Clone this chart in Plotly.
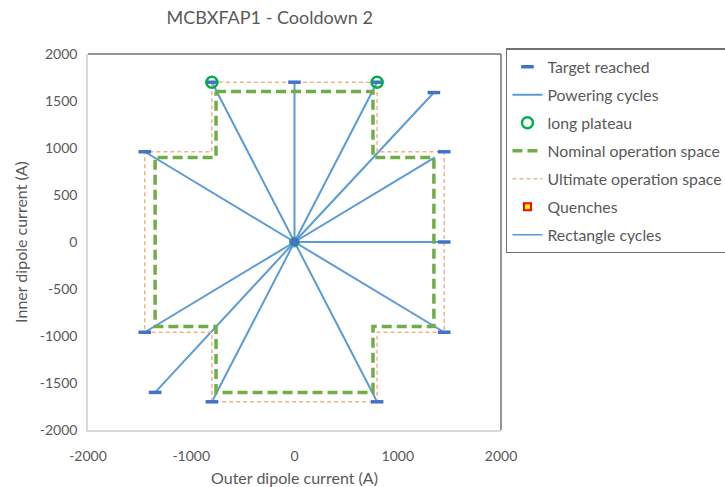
import plotly.graph_objects as go

# Reached current targets (outer dipole, inner dipole), in A
target_outer = [-800, 0, 800, 1350, -1450, 1450, 1450, -1450, 1450, -1350, -800, 800]
target_inner = [1700, 1700, 1700, 1590, 960, 960, 0, -960, -960, -1600, -1700, -1700]

# End points of the powering cycles, each ramped from the origin
cycle_outer = [-800, 0, 800, 1350, -1450, 1360, 1450, -1450, 1450, -1350, -800, 800]
cycle_inner = [1700, 1700, 1700, 1590, 960, 900, 0, -960, -960, -1600, -1700, -1700]

# Long plateaus
plateau_outer = [-800, 800]
plateau_inner = [1700, 1700]

# Origin of all cycles
origin_outer = [0]
origin_inner = [0]

# Nominal operation space boundary
nominal_outer = [-760, 760, 760, 1350, 1350, 760, 760, -760, -760, -1350, -1350, -760, -760]
nominal_inner = [1600, 1600, 900, 900, -900, -900, -1600, -1600, -900, -900, 900, 900, 1600]

# Ultimate operation space boundary
ultimate_outer = [-800, 800, 800, 1450, 1450, 800, 800, -800, -800, -1450, -1450, -800, -800]
ultimate_inner = [1700, 1700, 960, 960, -960, -960, -1700, -1700, -960, -960, 960, 960, 1700]

# No quenches and no rectangle cycles in this cooldown (legend entries only)
quench_outer, quench_inner = [None], [None]
rect_outer, rect_inner = [None], [None]

x_ticks = [-2000, -1000, 0, 1000, 2000]
y_ticks = [-2000, -1500, -1000, -500, 0, 500, 1000, 1500, 2000]

FONT = "Lato"
GREY = "#595959"

# Build the powering cycle segments from the origin
pc_x, pc_y = [], []
for ox, oy in zip(cycle_outer, cycle_inner):
    pc_x += [origin_outer[0], ox, None]
    pc_y += [origin_inner[0], oy, None]

fig = go.Figure()

fig.add_trace(go.Scatter(
    x=pc_x, y=pc_y, mode="lines", name="Powering cycles",
    line=dict(color="#5B9BD5", width=2), legendrank=2, legendgroup="b"))
fig.add_trace(go.Scatter(
    x=rect_outer, y=rect_inner, mode="lines", name="Rectangle cycles",
    line=dict(color="#5B9BD5", width=1.5), legendrank=7, legendgroup="g"))
fig.add_trace(go.Scatter(
    x=nominal_outer, y=nominal_inner, mode="lines", name="Nominal operation space",
    line=dict(color="#70AD47", width=3.5, dash="10px,5px"), legendrank=4, legendgroup="d"))
fig.add_trace(go.Scatter(
    x=ultimate_outer, y=ultimate_inner, mode="lines", name="Ultimate operation space",
    line=dict(color="#F4B183", width=1.5, dash="4px,3px"), legendrank=5, legendgroup="e"))
fig.add_trace(go.Scatter(
    x=target_outer, y=target_inner, mode="markers", name="Target reached",
    marker=dict(symbol="line-ew", size=9, line=dict(color="#4472C4", width=3.5)),
    legendrank=1, legendgroup="a"))
fig.add_trace(go.Scatter(
    x=origin_outer, y=origin_inner, mode="markers", showlegend=False,
    marker=dict(symbol="circle", size=10, color="#4472C4",
                line=dict(color="#3CB371", width=1))))
fig.add_trace(go.Scatter(
    x=plateau_outer, y=plateau_inner, mode="markers", name="long plateau",
    marker=dict(symbol="circle-open", size=11, color="#00B050",
                line=dict(color="#00B050", width=2.5)),
    legendrank=3, legendgroup="c"))
fig.add_trace(go.Scatter(
    x=quench_outer, y=quench_inner, mode="markers", name="Quenches",
    marker=dict(symbol="square", size=7, color="#FFFF00",
                line=dict(color="#FF0000", width=2)),
    legendrank=6, legendgroup="f"))

fig.update_layout(
    width=725, height=487,
    margin=dict(l=88, r=224, t=54, b=57, autoexpand=False),
    paper_bgcolor="white", plot_bgcolor="white",
    font=dict(family=FONT, size=14, color=GREY),
    title=dict(text="MCBXFAP1 - Cooldown 2", x=0.44, xref="paper", xanchor="center",
               y=1 - 18 / 487, yref="container", yanchor="middle",
               font=dict(family=FONT, size=18, color=GREY)),
    showlegend=True,
    legend=dict(x=1.012, y=1.015, xanchor="left", yanchor="top",
                bordercolor="#707070", borderwidth=1.5, bgcolor="white",
                font=dict(family=FONT, size=15.8, color=GREY),
                tracegroupgap=4.5, itemwidth=30),
)

fig.update_xaxes(
    range=[-2000, 2000], tickvals=x_ticks, ticktext=[str(v) for v in x_ticks],
    showgrid=False, zeroline=False, showline=True, linecolor="#D9D9D9", linewidth=1.5,
    ticks="", ticklabelstandoff=12,
    title=dict(text="Outer dipole current (A)", standoff=10, font=dict(size=16)),
)
fig.update_yaxes(
    range=[-2000, 2000], tickvals=y_ticks, ticktext=[str(v) for v in y_ticks],
    showgrid=False, zeroline=False, showline=True, linecolor="#D9D9D9", linewidth=1.5,
    ticks="", ticklabelstandoff=6,
    title=dict(text="Inner dipole current (A)", standoff=8, font=dict(size=16)),
)

# Dark frame on top and right of the plot area
fig.add_shape(type="line", xref="paper", yref="paper", x0=0, x1=1, y0=1, y1=1,
              line=dict(color="#707070", width=1.5))
fig.add_shape(type="line", xref="paper", yref="paper", x0=1, x1=1, y0=0, y1=1,
              line=dict(color="#707070", width=1.5))

fig.write_html("out.html")
